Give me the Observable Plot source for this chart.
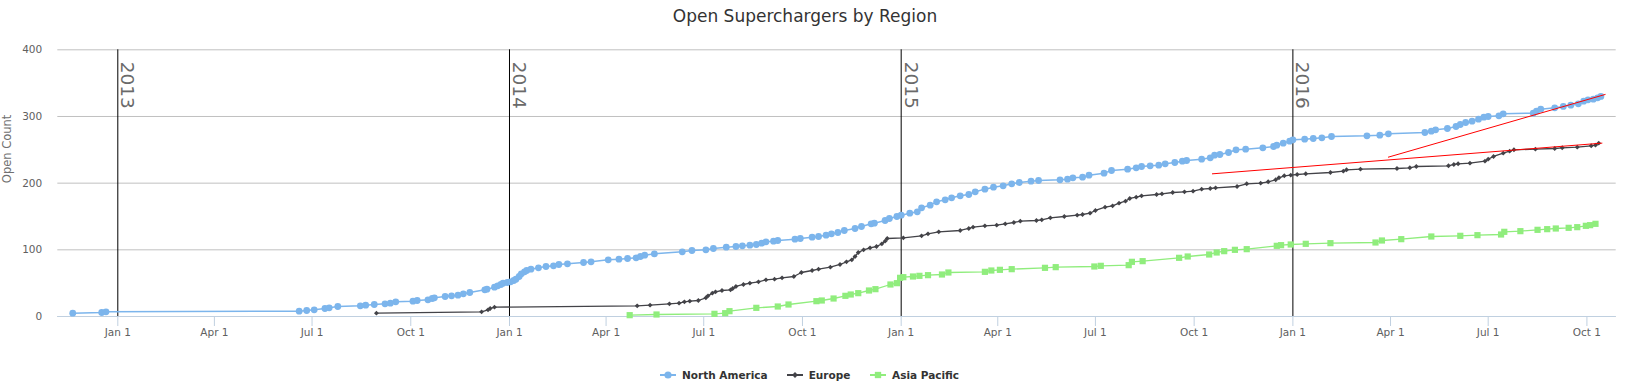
<!DOCTYPE html>
<html><head><meta charset="utf-8">
<script src="https://cdn.jsdelivr.net/npm/d3@7"></script>
<script src="https://cdn.jsdelivr.net/npm/@observablehq/plot@0.6"></script>
<style>
html,body{margin:0;padding:0;background:#fff;}
body{width:1626px;height:387px;position:relative;overflow:hidden;font-family:"DejaVu Sans",sans-serif;}
#title{position:absolute;left:0;top:6px;width:1610px;text-align:center;font-size:17px;line-height:20px;color:#333333;}
#chart{position:absolute;left:0;top:30px;}
.leg{position:absolute;top:368px;height:14px;display:flex;align-items:center;font-size:10.5px;font-weight:bold;color:#333333;line-height:14px;white-space:nowrap;}
.leg svg{margin-right:6px;display:block;}
</style></head><body>
<div id="title">Open Superchargers by Region</div>
<div id="chart"></div>
<div id="legend"></div>
<script>
// ---- data ----
const northAmerica = [
["2012-11-20",5],["2012-12-17",6],["2012-12-21",7],["2013-06-19",8],["2013-06-26",9],["2013-07-03",10],
["2013-07-13",12],["2013-07-17",13],["2013-07-25",15],["2013-08-15",16],["2013-08-20",17],["2013-08-28",18],
["2013-09-07",19],["2013-09-12",20],["2013-09-17",22],["2013-10-03",23],["2013-10-07",24],["2013-10-17",25],
["2013-10-21",27],["2013-10-23",28],["2013-11-02",30],["2013-11-08",31],["2013-11-14",32],["2013-11-19",34],
["2013-11-25",36],["2013-12-09",40],["2013-12-11",41],["2013-12-18",44],["2013-12-21",46],["2013-12-24",48],
["2013-12-26",50],["2013-12-30",51],["2014-01-02",52],["2014-01-05",54],["2014-01-07",56],["2014-01-10",60],
["2014-01-12",64],["2014-01-15",67],["2014-01-17",69],["2014-01-21",71],["2014-01-28",73],["2014-02-04",75],
["2014-02-11",76],["2014-02-16",78],["2014-02-24",79],["2014-03-11",81],["2014-03-18",82],["2014-04-03",85],
["2014-04-13",86],["2014-04-21",87],["2014-04-29",88],["2014-05-03",90],["2014-05-07",92],["2014-05-16",94],
["2014-06-11",97],["2014-06-20",99],["2014-07-03",100],["2014-07-10",102],["2014-07-22",104],["2014-07-31",105],
["2014-08-06",106],["2014-08-13",107],["2014-08-19",108],["2014-08-24",110],["2014-08-28",112],["2014-09-04",113],
["2014-09-08",114],["2014-09-24",116],["2014-09-29",117],["2014-10-10",119],["2014-10-16",120],["2014-10-23",122],
["2014-10-28",124],["2014-11-03",126],["2014-11-09",129],["2014-11-19",132],["2014-11-25",135],["2014-12-04",139],
["2014-12-07",140],["2014-12-17",144],["2014-12-21",147],["2014-12-28",150],["2015-01-01",152],["2015-01-09",155],
["2015-01-16",157],["2015-01-20",163],["2015-01-28",167],["2015-02-03",172],["2015-02-11",175],["2015-02-17",178],
["2015-02-25",181],["2015-03-05",183],["2015-03-11",187],["2015-03-20",191],["2015-03-28",194],["2015-04-06",196],
["2015-04-14",199],["2015-04-21",201],["2015-05-02",203],["2015-05-09",204],["2015-05-29",205],["2015-06-05",206],
["2015-06-10",208],["2015-06-19",209],["2015-06-25",212],["2015-07-09",215],["2015-07-16",219],["2015-07-31",221],
["2015-08-08",223],["2015-08-13",225],["2015-08-21",226],["2015-08-29",227],["2015-09-04",229],["2015-09-13",231],
["2015-09-20",233],["2015-09-24",234],["2015-10-08",236],["2015-10-16",238],["2015-10-20",242],["2015-10-25",243],
["2015-11-02",246],["2015-11-09",250],["2015-11-18",251],["2015-12-04",253],["2015-12-14",255],["2015-12-17",257],
["2015-12-23",260],["2015-12-29",263],["2016-01-01",265],["2016-01-12",266],["2016-01-20",267],["2016-01-28",268],
["2016-02-06",270],["2016-03-10",271],["2016-03-22",272],["2016-03-30",274],["2016-05-03",276],["2016-05-09",278],
["2016-05-13",280],["2016-05-24",282],["2016-06-01",285],["2016-06-05",288],["2016-06-10",291],["2016-06-16",293],
["2016-06-22",296],["2016-06-27",299],["2016-07-01",300],["2016-07-11",301],["2016-07-15",304],["2016-08-12",305],
["2016-08-15",308],["2016-08-19",311],["2016-09-01",313],["2016-09-09",315],["2016-09-16",317],["2016-09-23",319],
["2016-09-28",323],["2016-10-02",325],["2016-10-07",326],["2016-10-11",328],["2016-10-14",330]
];
const europe = [
["2013-08-30",5],["2013-12-06",7],["2013-12-12",10],["2013-12-14",12],["2013-12-18",14],["2014-04-30",16],
["2014-05-12",17],["2014-05-30",19],["2014-06-08",20],["2014-06-13",22],["2014-06-18",23],["2014-06-26",24],
["2014-07-03",28],["2014-07-05",31],["2014-07-09",35],["2014-07-12",37],["2014-07-18",39],["2014-07-26",40],
["2014-07-28",42],["2014-07-31",45],["2014-08-07",48],["2014-08-13",50],["2014-08-21",52],["2014-08-28",55],
["2014-09-05",56],["2014-09-12",58],["2014-09-23",60],["2014-09-30",66],["2014-10-10",69],["2014-10-16",71],
["2014-10-27",74],["2014-11-05",78],["2014-11-11",82],["2014-11-16",85],["2014-11-19",90],["2014-11-22",96],
["2014-11-27",100],["2014-12-03",103],["2014-12-09",105],["2014-12-14",109],["2014-12-17",113],["2014-12-19",117],
["2015-01-03",118],["2015-01-20",121],["2015-01-26",124],["2015-02-05",127],["2015-02-25",129],["2015-03-05",132],
["2015-03-09",134],["2015-03-20",136],["2015-03-31",137],["2015-04-08",139],["2015-04-16",141],["2015-04-22",143],
["2015-05-07",144],["2015-05-12",145],["2015-05-20",148],["2015-06-02",150],["2015-06-14",152],["2015-06-19",153],
["2015-06-26",155],["2015-07-01",159],["2015-07-10",164],["2015-07-17",166],["2015-07-23",170],["2015-07-29",173],
["2015-08-02",177],["2015-08-08",179],["2015-08-13",181],["2015-08-27",183],["2015-09-01",184],["2015-09-11",186],
["2015-09-22",187],["2015-09-30",188],["2015-10-08",191],["2015-10-16",192],["2015-10-21",193],["2015-11-10",195],
["2015-11-19",199],["2015-12-02",200],["2015-12-09",202],["2015-12-16",205],["2015-12-19",208],["2015-12-24",211],
["2015-12-30",212],["2016-01-05",213],["2016-01-13",214],["2016-02-05",216],["2016-02-17",218],["2016-02-20",220],
["2016-03-04",221],["2016-04-07",222],["2016-04-19",223],["2016-04-25",225],["2016-05-25",226],["2016-05-30",228],
["2016-06-03",229],["2016-06-14",230],["2016-06-28",233],["2016-07-01",236],["2016-07-06",240],["2016-07-15",245],
["2016-07-21",248],["2016-07-25",250],["2016-08-14",251],["2016-09-01",252],["2016-09-08",253],["2016-09-22",254],
["2016-10-05",256],["2016-10-09",257],["2016-10-12",260]
];
const asiaPacific = [
["2014-04-23",2],["2014-05-18",3],["2014-07-11",4],["2014-07-21",5],["2014-07-25",8],["2014-08-19",13],
["2014-09-08",15],["2014-09-18",18],["2014-10-14",23],["2014-10-19",24],["2014-10-30",27],["2014-11-10",31],
["2014-11-15",33],["2014-11-22",35],["2014-12-02",39],["2014-12-08",41],["2014-12-22",48],["2014-12-28",50],
["2014-12-31",58],["2015-01-03",59],["2015-01-12",60],["2015-01-18",61],["2015-01-26",62],["2015-02-08",63],
["2015-02-14",66],["2015-03-20",67],["2015-03-26",69],["2015-04-03",70],["2015-04-14",71],["2015-05-15",73],
["2015-05-25",74],["2015-06-30",75],["2015-07-06",76],["2015-08-01",77],["2015-08-04",82],["2015-08-14",83],
["2015-09-17",88],["2015-09-25",90],["2015-10-15",93],["2015-10-22",96],["2015-10-29",98],["2015-11-08",100],
["2015-11-19",101],["2015-12-17",106],["2015-12-21",107],["2015-12-30",108],["2016-01-13",109],["2016-02-05",110],
["2016-03-18",111],["2016-03-24",114],["2016-04-11",116],["2016-05-09",120],["2016-06-05",121],["2016-06-21",122],
["2016-07-13",123],["2016-07-16",127],["2016-07-31",128],["2016-08-16",130],["2016-08-25",131],["2016-09-02",132],
["2016-09-14",133],["2016-09-22",134],["2016-09-30",136],["2016-10-04",137],["2016-10-09",139]
];
const trendLineA = [["2015-10-18",214],["2016-10-15",260]];
const trendLineB = [["2016-03-30",239],["2016-10-18",333]];
const yearLines = ["2013-01-01","2014-01-01","2015-01-01","2016-01-01"];
const yearLabels = ["2013","2014","2015","2016"];
const xTicks = ["2013-01-01","2013-04-01","2013-07-01","2013-10-01","2014-01-01","2014-04-01","2014-07-01","2014-10-01",
"2015-01-01","2015-04-01","2015-07-01","2015-10-01","2016-01-01","2016-04-01","2016-07-01","2016-10-01"];
const yTicks = [0,100,200,300,400];
const xDomain = ["2012-11-06T02:00:00Z","2016-10-28T07:00:00Z"];
const seriesNames = ["North America","Europe","Asia Pacific"];
const seriesColors = ["#7cb5ec","#434348","#90ed7d"];

// ---- build ----
const parse = d3.utcParse("%Y-%m-%d");
const rows = (arr) => arr.map(([d, v]) => ({date: parse(d), value: v}));
const na = rows(northAmerica), eu = rows(europe), ap = rows(asiaPacific);
const tA = rows(trendLineA), tB = rows(trendLineB);
const years = yearLines.map((d, i) => ({date: parse(d), label: yearLabels[i]}));
const fmt = d3.utcFormat("%b %-d");

const chart = Plot.plot({
  width: 1626, height: 322,
  marginTop: 19.3, marginBottom: 36, marginLeft: 57.3, marginRight: 10.3,
  style: {fontFamily: '"DejaVu Sans", sans-serif', background: "white", overflow: "visible"},
  x: {type: "utc", domain: xDomain.map(d => new Date(d)), label: null},
  y: {domain: [0, 400], label: null},
  marks: [
    Plot.gridY(yTicks, {stroke: "#C0C0C0", strokeOpacity: 1}),
    Plot.ruleY([0], {stroke: "#C0D0E0"}),
    Plot.ruleX(years, {x: "date", y1: 0, y2: 400, stroke: "#000000", strokeWidth: 1}),
    Plot.text(years, {x: "date", y: 400, text: "label", rotate: 90, textAnchor: "start", lineAnchor: "bottom",
      dx: 3.4, dy: 12, fontSize: 18.5, fill: "#6a6a6a"}),
    Plot.axisX(xTicks.map(parse), {tickFormat: fmt, tickSize: 10, tickPadding: 2, stroke: "#C0D0E0",
      fill: "#606060", fontSize: 10.5, label: null}),
    Plot.axisY(yTicks, {tickSize: 0, tickPadding: 15.6, fill: "#606060", fontSize: 10.5, label: null}),
    Plot.text(["Open Count"], {text: d => d, frameAnchor: "left", rotate: -90, dx: -50.6, fontSize: 11.5, fill: "#707070"}),
    Plot.line(na, {x: "date", y: "value", stroke: seriesColors[0], strokeWidth: 1.5}),
    Plot.dot(na, {x: "date", y: "value", r: 3.4, fill: seriesColors[0], symbol: "circle"}),
    Plot.line(eu, {x: "date", y: "value", stroke: seriesColors[1], strokeWidth: 1.3}),
    Plot.dot(eu, {x: "date", y: "value", r: 2.2, fill: seriesColors[1], symbol: "diamond2"}),
    Plot.line(ap, {x: "date", y: "value", stroke: seriesColors[2], strokeWidth: 1.3}),
    Plot.dot(ap, {x: "date", y: "value", r: 3.5, fill: seriesColors[2], symbol: "square"}),
    Plot.line(tA, {x: "date", y: "value", stroke: "#ff0000", strokeWidth: 1}),
    Plot.line(tB, {x: "date", y: "value", stroke: "#ff0000", strokeWidth: 1})
  ]
});
document.getElementById("chart").appendChild(chart);

// ---- legend ----
const legendLeft = [660, 786.7, 870];
const symbols = [d3.symbolCircle, d3.symbolDiamond2, d3.symbolSquare];
const symbolSizes = [40, 22, 40];
const legend = d3.select("#legend");
seriesNames.forEach((name, i) => {
  const item = legend.append("div").attr("class", "leg").style("left", legendLeft[i] + "px");
  const s = item.append("svg").attr("width", 16).attr("height", 14);
  s.append("line").attr("x1", 0).attr("x2", 16).attr("y1", 7).attr("y2", 7)
    .attr("stroke", seriesColors[i]).attr("stroke-width", 2);
  s.append("path").attr("transform", "translate(8,7)")
    .attr("d", d3.symbol(symbols[i], symbolSizes[i])()).attr("fill", seriesColors[i]);
  item.append("span").text(name);
});
</script>
</body></html>
